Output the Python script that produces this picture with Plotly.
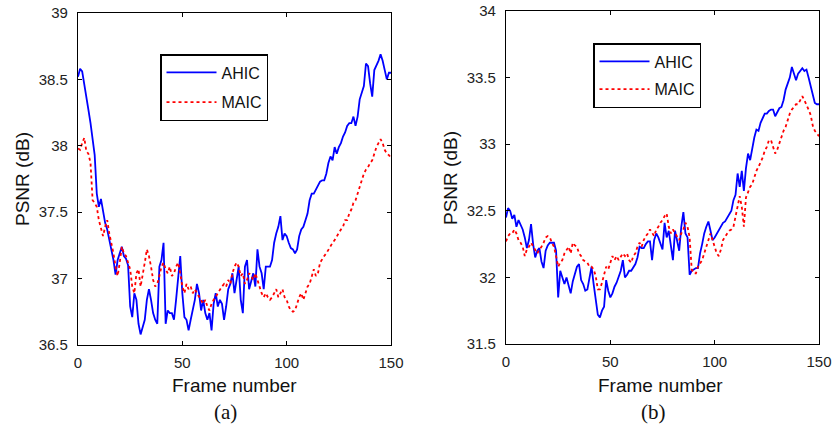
import plotly.graph_objects as go

frames = list(range(151))

# (a) left panel
a_ahic = [38.52, 38.58, 38.56, 38.45, 38.35, 38.27, 38.17, 38.05, 37.93, 37.64,
          37.54, 37.6, 37.52, 37.42, 37.37, 37.29, 37.22, 37.14, 37.03,
          37.14, 37.19, 37.24, 37.17, 37.15, 37.1, 36.79, 36.71, 36.89, 36.84,
          36.66, 36.58, 36.64, 36.69, 36.84, 36.92, 36.84, 36.74, 36.69, 36.66,
          37.09, 37.14, 37.27, 36.66, 36.76, 36.74, 36.74, 36.69, 36.84, 37.04,
          37.17, 36.89, 36.71, 36.69, 36.61, 36.69, 36.76, 36.84, 36.96, 36.89,
          36.76, 36.84, 36.74, 36.69, 36.74, 36.61, 36.81, 36.89, 36.79, 36.84,
          36.81, 36.69, 36.79, 36.92, 36.96, 37.04, 36.89, 36.99, 37.09, 36.84,
          36.74, 37.09, 37.14, 36.92, 36.99, 37.04, 36.94, 37.22, 37.09, 37.04,
          36.92, 37.09, 37.09, 37.09, 37.14, 37.27, 37.34, 37.39, 37.47, 37.29,
          37.34, 37.32, 37.27, 37.23, 37.22, 37.19, 37.22, 37.32, 37.37, 37.39,
          37.44, 37.49, 37.59, 37.64, 37.64, 37.67, 37.69, 37.73, 37.74, 37.74,
          37.79, 37.87, 37.92, 37.89, 37.99, 37.94, 37.99, 38.02, 38.07, 38.1,
          38.15, 38.17, 38.17, 38.22, 38.15, 38.22, 38.35, 38.4, 38.45, 38.62,
          38.6, 38.47, 38.37, 38.57, 38.6, 38.64, 38.69, 38.64, 38.57, 38.5, 38.55, 38.55]
a_maic = [37.98, 37.97, 38.02, 38.06, 37.96, 37.94, 37.87, 37.59, 37.57, 37.54,
          37.44, 37.37, 37.32, 37.39, 37.44, 37.34, 37.27, 37.19, 37.09, 37.02,
          37.12, 37.24, 37.19, 37.17, 37.12, 37.07, 36.94, 36.89, 37.04, 37.07,
          36.94, 37.02, 37.12, 37.22, 37.17, 37.09, 36.99, 36.94, 36.96, 37.02,
          37.09, 37.12, 37.07, 37.04, 37.09, 37.02, 37.04, 37.09, 37.12, 37.04,
          36.94, 36.89, 36.96, 36.92, 36.94, 36.89, 36.92, 36.89, 36.86, 36.84,
          36.81, 36.84, 36.79, 36.76, 36.81, 36.84, 36.86, 36.89, 36.92, 36.94,
          36.96, 36.94, 36.99, 36.96, 37.04, 37.09, 37.12, 37.09, 37.02, 37.04,
          36.96, 36.99, 37.04, 37.02, 36.99, 37.04, 36.99, 36.94, 36.89, 36.86,
          36.89, 36.86, 36.84, 36.86, 36.89, 36.92, 36.86, 36.89, 36.92, 36.86,
          36.84, 36.79, 36.76, 36.75, 36.76, 36.81, 36.86, 36.89, 36.84, 36.89,
          36.94, 36.96, 37.02, 37.07, 37.02, 37.04, 37.12, 37.15, 37.17, 37.19,
          37.22, 37.24, 37.27, 37.29, 37.32, 37.34, 37.37, 37.39, 37.44, 37.44,
          37.49, 37.52, 37.57, 37.59, 37.64, 37.69, 37.74, 37.79, 37.82, 37.84,
          37.87, 37.89, 37.94, 37.99, 38.02, 38.05, 38.02, 37.97, 37.94, 37.93, 37.91]

# (b) right panel
b_ahic = [32.45, 32.52, 32.5, 32.44, 32.47, 32.38, 32.43, 32.4, 32.36, 32.3,
          32.22, 32.28, 32.4, 32.25, 32.15, 32.2, 32.22, 32.12, 32.07, 32.2,
          32.24, 32.26, 32.26, 32.26, 32.2, 31.85, 32.05, 32.0, 31.95, 32.0,
          31.93, 31.88, 31.97, 32.02, 32.08, 32.1, 31.98, 31.95, 31.9, 31.91,
          32.0, 32.08, 31.95, 31.82, 31.72, 31.7, 31.75, 31.78, 31.98, 31.9,
          31.85, 31.88, 31.93, 31.96, 32.0, 32.05, 32.13, 32.0, 32.02, 32.05,
          32.05, 32.08, 32.1, 32.15, 32.23, 32.22, 32.22, 32.25, 32.27, 32.27,
          32.13, 32.28, 32.33, 32.3, 32.26, 32.21, 32.41, 32.3, 32.35, 32.25,
          32.13, 32.35, 32.28, 32.2, 32.38, 32.49, 32.33, 32.3, 32.02, 32.05,
          32.06, 32.07, 32.07, 32.18, 32.25, 32.33, 32.38, 32.42, 32.35, 32.28,
          32.3, 32.33, 32.35, 32.38, 32.41, 32.42, 32.45, 32.48, 32.5, 32.58,
          32.62, 32.78, 32.68, 32.8, 32.65, 32.82, 32.93, 32.88, 32.98, 33.05,
          33.11, 33.1, 33.16, 33.2, 33.23, 33.23, 33.25, 33.26, 33.26, 33.21,
          33.24, 33.27, 33.28, 33.33, 33.41, 33.45, 33.5, 33.58, 33.52, 33.48,
          33.53, 33.55, 33.57, 33.55, 33.56, 33.5, 33.43, 33.36, 33.31, 33.3, 33.3]
b_maic = [32.27, 32.31, 32.33, 32.33, 32.36, 32.33, 32.28, 32.26, 32.23, 32.16,
          32.21, 32.23, 32.26, 32.23, 32.21, 32.18, 32.21, 32.23, 32.26, 32.3,
          32.31, 32.3, 32.26, 32.23, 32.16, 32.08, 32.11, 32.13, 32.18, 32.21,
          32.23, 32.18, 32.26, 32.24, 32.23, 32.18, 32.16, 32.13, 32.12, 32.11,
          32.08, 32.08, 32.06, 32.01, 31.91, 31.91, 31.96, 32.03, 32.08, 32.06,
          32.11, 32.16, 32.13, 32.16, 32.13, 32.16, 32.18, 32.16, 32.18, 32.13,
          32.11, 32.16, 32.18, 32.23, 32.26, 32.23, 32.28, 32.31, 32.33, 32.36,
          32.33, 32.31, 32.36, 32.38, 32.41, 32.43, 32.46, 32.48, 32.38, 32.33,
          32.36, 32.33, 32.31, 32.28, 32.33, 32.36, 32.41, 32.38, 32.3, 32.06,
          32.03, 32.03, 32.08, 32.11, 32.13, 32.18, 32.23, 32.28, 32.33, 32.28,
          32.23, 32.18, 32.16, 32.21, 32.28, 32.31, 32.33, 32.35, 32.36, 32.38,
          32.46, 32.53, 32.61, 32.53, 32.38, 32.6, 32.64, 32.68, 32.7, 32.76,
          32.8, 32.83, 32.86, 32.9, 32.95, 32.98, 33.03, 33.03, 32.98, 32.93,
          32.96, 33.01, 33.06, 33.1, 33.13, 33.18, 33.23, 33.26, 33.28, 33.3,
          33.3, 33.33, 33.36, 33.33, 33.3, 33.26, 33.22, 33.14, 33.1, 33.08, 33.06]

x_ticks = [0, 50, 100, 150]
a_yticks = [36.5, 37, 37.5, 38, 38.5, 39]
b_yticks = [31.5, 32, 32.5, 33, 33.5, 34]

FONT = "Liberation Sans, Arial, sans-serif"
SERIF = "Liberation Serif, Times New Roman, serif"
BLUE = "#0000ff"
RED = "#ff0000"

fig = go.Figure()
fig.add_trace(go.Scatter(x=frames, y=a_ahic, mode="lines", name="AHIC",
                         line=dict(color=BLUE, width=1.8), xaxis="x", yaxis="y",
                         legend="legend", legendgroup="a1"))
fig.add_trace(go.Scatter(x=frames, y=a_maic, mode="lines", name="MAIC",
                         line=dict(color=RED, width=1.8, dash="dot"), xaxis="x", yaxis="y",
                         legend="legend", legendgroup="a2"))
fig.add_trace(go.Scatter(x=frames, y=b_ahic, mode="lines", name="AHIC",
                         line=dict(color=BLUE, width=1.8), xaxis="x2", yaxis="y2",
                         legend="legend2", legendgroup="b1"))
fig.add_trace(go.Scatter(x=frames, y=b_maic, mode="lines", name="MAIC",
                         line=dict(color=RED, width=1.8, dash="dot"), xaxis="x2", yaxis="y2",
                         legend="legend2", legendgroup="b2"))

axis_common = dict(showline=True, linecolor="black", linewidth=1.2, mirror="ticks",
                   ticks="inside", ticklen=4, tickcolor="black", showgrid=False,
                   zeroline=False, automargin=False,
                   tickfont=dict(family=FONT, size=15, color="#222"))

W, H = 836, 434
def px_x(v):
    return v / W
def px_y(v):
    return 1 - v / H
def dom_x(l, r):
    return [l / W, r / W]
def dom_y(t, b):
    return [1 - b / H, 1 - t / H]

title_font = dict(family=FONT, size=19, color="#111")
def note(text, x, y, angle=0, font=title_font):
    return dict(text=text, x=px_x(x), y=px_y(y), xref="paper", yref="paper",
                xanchor="center", yanchor="middle", textangle=angle,
                showarrow=False, font=font)

serif_font = dict(family=SERIF, size=21, color="#111")

fig.update_layout(
    width=W, height=H, margin=dict(l=0, r=0, t=0, b=0, autoexpand=False),
    paper_bgcolor="white", plot_bgcolor="white",
    font=dict(family=FONT, color="#111"),
    xaxis=dict(axis_common, domain=dom_x(78, 391), range=[0, 150], tickvals=x_ticks,
               anchor="y", ticklabelstandoff=4),
    yaxis=dict(axis_common, domain=dom_y(13, 345), range=[36.5, 39], tickvals=a_yticks,
               anchor="x", ticklabelstandoff=6),
    xaxis2=dict(axis_common, domain=dom_x(506, 819), range=[0, 150], tickvals=x_ticks,
                anchor="y2", ticklabelstandoff=4),
    yaxis2=dict(axis_common, domain=dom_y(11, 344), range=[31.5, 34], tickvals=b_yticks,
                anchor="x2", ticklabelstandoff=6),
    legend=dict(x=160 / W, y=1 - 54 / H, xanchor="left", yanchor="top",
                bgcolor="white", bordercolor="black", borderwidth=1.5,
                font=dict(family=FONT, size=16, color="#111"),
                itemwidth=50, tracegroupgap=6),
    legend2=dict(x=593 / W, y=1 - 43 / H, xanchor="left", yanchor="top",
                 bgcolor="white", bordercolor="black", borderwidth=1.5,
                 font=dict(family=FONT, size=16, color="#111"),
                 itemwidth=50, tracegroupgap=4),
    showlegend=True,
    annotations=[
        note("PSNR (dB)", 22, 179, -90),
        note("PSNR (dB)", 450, 178, -90),
        note("Frame number", 234, 385),
        note("Frame number", 660, 385),
        note("(a)", 225, 412, font=serif_font),
        note("(b)", 653, 412, font=serif_font),
    ],
)

fig.write_html("out.html")
